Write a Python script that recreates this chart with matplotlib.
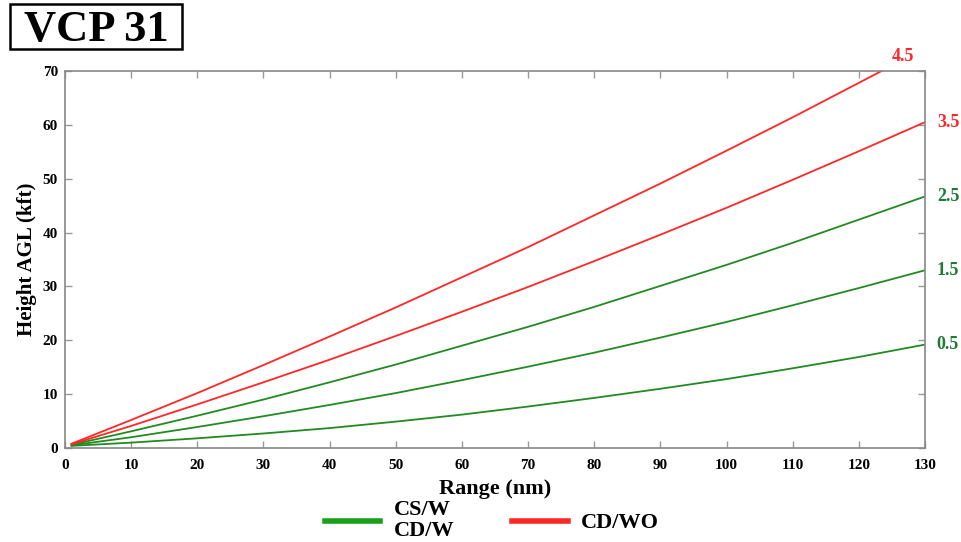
import matplotlib
matplotlib.use('Agg')
import matplotlib.pyplot as plt
from matplotlib.lines import Line2D
from matplotlib.patches import Rectangle

# range (nm) and beam centre height (kft)
rng = [1, 10, 20, 30, 40, 50, 60, 70, 80, 90, 100, 110, 120, 130]
h05 = [0.4, 1.0, 1.8, 2.7, 3.7, 4.9, 6.2, 7.7, 9.3, 11.0, 12.8, 14.8, 16.9, 19.2]
h15 = [0.5, 2.0, 3.9, 5.9, 8.0, 10.2, 12.6, 15.1, 17.7, 20.5, 23.4, 26.5, 29.7, 33.0]
h25 = [0.6, 3.1, 6.0, 9.0, 12.2, 15.5, 19.0, 22.5, 26.2, 30.1, 34.0, 38.1, 42.4, 46.7]
h35 = [0.7, 4.1, 8.1, 12.2, 16.4, 20.8, 25.3, 29.9, 34.7, 39.6, 44.6, 49.8, 55.1, 60.5]
h45 = [0.8, 5.2, 10.2, 15.4, 20.7, 26.1, 31.7, 37.3, 43.2, 49.1, 55.2, 61.4, 67.8, 74.2]

angles = ['0.5', '1.5', '2.5', '3.5', '4.5']
heights = [h05, h15, h25, h35, h45]
kinds = ['W', 'W', 'W', 'WO', 'WO']

GREEN = '#218a21'
RED = '#ff2626'
LBL_GREEN = '#1f7a35'
serif = ['Liberation Serif', 'DejaVu Serif']

fig = plt.figure(figsize=(9.61, 5.42), dpi=100)
ax = fig.add_axes([0.0676, 0.1734, 0.8949, 0.6956])

for a, h, k in zip(angles, heights, kinds):
    col = GREEN if k == 'W' else RED
    ax.plot(rng, h, color=col, lw=1.3)
    # elevation label beside the end of each line
    if h[-1] > 70:
        # line leaves the top: label above where it exits
        i = next(j for j, v in enumerate(h) if v > 70)
        xe = rng[i-1] + (70 - h[i-1]) * (rng[i] - rng[i-1]) / (h[i] - h[i-1])
        ax.text(xe + 3.2, 72.6, a, color=RED, fontsize=13, fontweight='bold',
                family=serif, ha='center', va='center', clip_on=False)
    else:
        lc = LBL_GREEN if k == 'W' else RED
        ax.text(rng[-1] + 1.8, h[-1], a, color=lc, fontsize=13, fontweight='bold',
                family=serif, ha='left', va='center', clip_on=False)

ax.set_xlim(0, 130)
ax.set_ylim(0, 70)
ax.set_xticks(range(0, 131, 10))
ax.set_yticks(range(0, 71, 10))
ax.tick_params(direction='in', length=5, width=1, color='#999999',
               top=True, right=True, labelsize=11)
ax.tick_params(axis='x', pad=8)
ax.tick_params(axis='y', pad=5)
for lab in ax.get_xticklabels() + ax.get_yticklabels():
    lab.set_family(serif)
    lab.set_fontweight('bold')
for s in ax.spines.values():
    s.set_color('#888888')
    s.set_linewidth(1.2)

ax.set_xlabel('Range (nm)', family=serif, fontweight='bold', fontsize=16, labelpad=5)
ax.set_ylabel('Height AGL (kft)', family=serif, fontweight='bold', fontsize=15, labelpad=4)

# boxed title
fig.patches.append(Rectangle((0.0104, 0.9096), 0.179, 0.083, transform=fig.transFigure,
                             fill=False, ec='black', lw=1.8))
fig.text(0.0999, 0.944, 'VCP 31', family=serif, fontweight='bold', fontsize=32,
         ha='center', va='center')

handles = [Line2D([], [], color='#1aa01a', lw=4), Line2D([], [], color=RED, lw=4)]
leg = fig.legend(handles, ['CS/W\nCD/W', 'CD/WO'], loc='center', ncol=2,
                 bbox_to_anchor=(0.512, 0.039), frameon=False, handlelength=2.5,
                 columnspacing=2.6, handletextpad=0.6,
                 prop=dict(family=serif, weight='bold', size=16))
for t in leg.get_texts():
    t.set_linespacing(1.05)

fig.savefig('out.png', dpi=100)
